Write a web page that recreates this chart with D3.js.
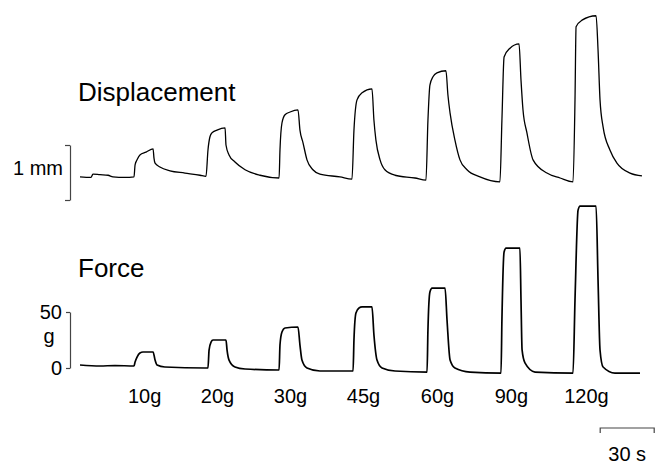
<!DOCTYPE html>
<html>
<head>
<meta charset="utf-8">
<script src="https://cdn.jsdelivr.net/npm/d3@7"></script>
<style>
  body { margin: 0; background: #fff; }
  svg { display: block; font-family: 'Liberation Sans', Arial, sans-serif; }
  .trace { fill: none; stroke: #000; stroke-linejoin: round; }
  .axis path, .axis line { stroke: #444; stroke-width: 1.2; }
</style>
</head>
<body>
<div id="chart"></div>
<script>
// [time (s), displacement (mm)]
var displacement = [
  [0, 0.02], [6.1, 0.01], [7.2, 0.07], [11.1, 0.06], [15.6, 0.05], [18.3, 0.02], [25, 0.01], [30, 0.02],
  [30.6, 0.24], [31.7, 0.33], [33.3, 0.42], [36.7, 0.47], [40.6, 0.53], [41.1, 0.36], [41.7, 0.27],
  [44.4, 0.20], [50, 0.13], [58.3, 0.09], [66.7, 0.05], [70, 0.03],
  [71.1, 0.51], [72.2, 0.75], [73.3, 0.82], [76.1, 0.87], [80.6, 0.91], [81.1, 0.6], [82.8, 0.42],
  [86.1, 0.29], [91.7, 0.15], [100, 0.05], [110.6, 0],
  [111.1, 0.51], [112.2, 1.0], [113.9, 1.15], [116.7, 1.2], [121.1, 1.24], [122.2, 0.87], [123.9, 0.64],
  [126.1, 0.33], [129.4, 0.15], [133.3, 0.07], [144.4, 0.02], [151.1, -0.02],
  [152.2, 0.87], [153.9, 1.42], [156.7, 1.55], [162.2, 1.62], [163.3, 1.05], [164.4, 0.69],
  [166.7, 0.33], [169.4, 0.15], [175, 0.05], [186.1, 0], [192.2, -0.04],
  [193.3, 1.05], [194.4, 1.69], [196.1, 1.84], [198.3, 1.91], [203.3, 1.95], [204.4, 1.51], [205.6, 1.18],
  [208.3, 0.69], [211.1, 0.33], [215, 0.15], [222.2, 0.02], [233.3, -0.07],
  [234.4, 1.05], [235.6, 2.2], [238.9, 2.36], [243.9, 2.44], [245, 1.78], [246.1, 1.24], [248.3, 0.82],
  [251.7, 0.33], [259.4, 0.09], [266.7, 0], [273.9, -0.07],
  [275, 1.42], [275.6, 2.75], [278.9, 2.87], [286.7, 2.95], [287.8, 2.33], [288.9, 1.42], [290.6, 0.93],
  [294.4, 0.51], [298.3, 0.27], [305.6, 0.09], [312.2, 0.04]
]

// [time (s), force (g)]
var force = [
  [0, 2.7], [11.1, 1.8], [19.4, 2.2], [30, 1.8],
  [30.6, 5.4], [31.7, 9.8], [33.3, 13.4], [35, 14.3], [40.6, 14.3], [41.7, 7.1], [42.8, 2.7],
  [47.2, 0.9], [69.4, 0], [71.1, 0],
  [71.7, 16], [72.8, 23.2], [73.9, 25], [81.1, 25], [81.7, 16], [82.8, 7.1], [86.1, 0.9],
  [91.7, -0.9], [110.6, -1.8],
  [111.1, 20.5], [112.2, 32.1], [113.9, 35.7], [121.1, 36.6], [122.2, 20.5], [123.3, 7.1], [126.1, 0],
  [133.3, -2.7], [151.7, -2.7],
  [152.2, 25], [153.3, 49.1], [155, 53.6], [156.7, 54.5], [162.2, 54.5], [163.3, 29.5], [165, 7.1],
  [167.8, 0], [175, -2.7], [192.8, -3.6],
  [193.3, 33.9], [194.4, 67.9], [195.6, 71.4], [202.8, 71.4], [203.9, 42.9], [205.6, 7.1], [208.3, 0],
  [216.7, -3.6], [233.9, -4.5],
  [234.4, 42.9], [235.6, 103.6], [236.7, 107.1], [244.4, 107.1], [245, 60.7], [245.6, 16.1], [247.2, 4.5],
  [252.8, -3.6], [273.9, -4.5],
  [275, 60.7], [276.7, 141], [277.8, 144.6], [286.7, 144.6], [287.8, 78.6], [288.9, 16.1], [290.6, 0.9],
  [297.2, -4.5], [311.1, -4.5]
]

var loadLabels = ['10g', '20g', '30g', '45g', '60g', '90g', '120g']
var loadTimes = [35.6, 76.1, 116.7, 157.2, 198.3, 239.4, 281.1]
var forceTicks = [0, 50]
var mmBracket = [-0.4, 0.6]
var timeBar = [289, 319]

var WIDTH = 657
var HEIGHT = 464
var FONT = 'Liberation Sans, Arial, sans-serif'

var svg = d3.select('#chart').append('svg')
  .attr('width', WIDTH)
  .attr('height', HEIGHT)

var x = d3.scaleLinear().domain([0, 310]).range([80, 638])
var yDisp = d3.scaleLinear().domain([0, 1]).range([178, 123])
var yForce = d3.scaleLinear().domain([0, 50]).range([368, 312])

function traceLine (y) {
  return d3.line()
    .x(function (d) { return x(d[0]) })
    .y(function (d) { return y(d[1]) })
    .curve(d3.curveMonotoneX)
}

svg.append('path')
  .attr('class', 'trace')
  .attr('stroke-width', 1.3)
  .attr('d', traceLine(yDisp)(displacement))

svg.append('path')
  .attr('class', 'trace')
  .attr('stroke-width', 1.7)
  .attr('d', traceLine(yForce)(force))

// titles
svg.append('text').attr('x', 78).attr('y', 101)
  .attr('font-size', 26).text('Displacement')
svg.append('text').attr('x', 78).attr('y', 277)
  .attr('font-size', 26).text('Force')

// 1 mm bracket
var yBracket = d3.scaleLinear().domain(mmBracket)
  .range([yDisp(mmBracket[0]), yDisp(mmBracket[1])])
svg.append('g')
  .attr('class', 'axis')
  .attr('transform', 'translate(70, 0)')
  .call(d3.axisLeft(yBracket).tickValues(mmBracket).tickFormat('').tickSize(5).tickSizeOuter(0))
svg.append('text').attr('x', 63).attr('y', 175)
  .attr('text-anchor', 'end').attr('font-size', 20).text('1 mm')

// force axis
var fAxis = svg.append('g')
  .attr('class', 'axis')
  .attr('transform', 'translate(70, 0)')
  .call(d3.axisLeft(yForce).tickValues(forceTicks).tickSize(4).tickSizeOuter(0).tickPadding(4))
fAxis.attr('font-size', 20).attr('font-family', FONT)
fAxis.selectAll('text').attr('fill', '#000')
svg.append('text').attr('x', 49).attr('y', 343)
  .attr('text-anchor', 'middle').attr('font-size', 20).text('g')

// load labels under each pulse
var lAxis = svg.append('g')
  .attr('transform', 'translate(0, 385)')
  .call(d3.axisBottom(x).tickValues(loadTimes)
    .tickFormat(function (d, i) { return loadLabels[i] })
    .tickSize(0).tickPadding(4))
lAxis.attr('font-size', 20).attr('font-family', FONT)
lAxis.select('.domain').remove()
lAxis.selectAll('text').attr('fill', '#000')

// 30 s bar
var barY = 428
svg.append('path')
  .attr('fill', 'none')
  .attr('stroke', '#444')
  .attr('stroke-width', 1.2)
  .attr('d', 'M' + x(timeBar[0]) + ',' + (barY + 5) + 'V' + barY + 'H' + x(timeBar[1]) + 'V' + (barY + 5))
svg.append('text')
  .attr('x', (x(timeBar[0]) + x(timeBar[1])) / 2)
  .attr('y', 461)
  .attr('text-anchor', 'middle').attr('font-size', 20).text('30 s')
</script>
</body>
</html>
